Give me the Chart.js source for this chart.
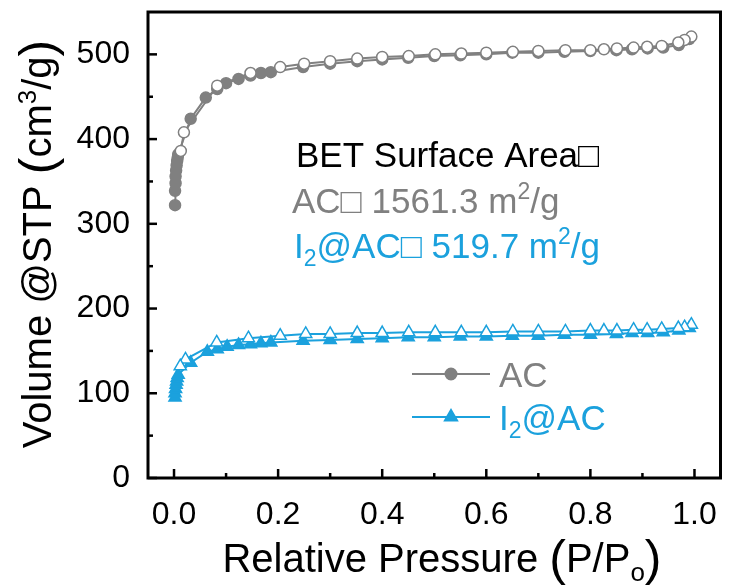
<!DOCTYPE html>
<html>
<head>
<meta charset="utf-8">
<script src="https://cdn.jsdelivr.net/npm/chart.js@4.4.0/dist/chart.umd.min.js"></script>
<style>
  html, body { margin: 0; padding: 0; background: #fff; }
  canvas { display: block; }
</style>
</head>
<body>
<canvas id="bet" width="729" height="588"></canvas>
<script>
// tick values
const xTicks = [0, 0.2, 0.4, 0.6, 0.8, 1.0];
const xMinor = [0.1, 0.3, 0.5, 0.7, 0.9];
const yTicks = [0, 100, 200, 300, 400, 500];
const yMinor = [50, 150, 250, 350, 450];

// AC adsorption (filled) / desorption (open)
const acAdsP = [0.002, 0.002, 0.003, 0.003, 0.004, 0.005, 0.006, 0.007, 0.008, 0.032, 0.061, 0.083, 0.100, 0.124, 0.147, 0.167, 0.186, 0.248, 0.300, 0.352, 0.400, 0.450, 0.500, 0.550, 0.600, 0.650, 0.700, 0.750, 0.800, 0.850, 0.880, 0.910, 0.940, 0.970, 0.990];
const acAdsV = [322, 339, 348, 356, 363, 369, 374, 378, 382, 424, 449, 459, 466, 471, 475, 478, 479, 485, 489, 492, 494, 496, 498, 499, 500, 502, 502, 503, 504, 505, 506, 507, 508, 511, 518];
const acDesP = [0.994, 0.981, 0.969, 0.937, 0.909, 0.883, 0.851, 0.826, 0.800, 0.752, 0.700, 0.651, 0.600, 0.552, 0.502, 0.451, 0.400, 0.352, 0.300, 0.250, 0.204, 0.147, 0.083, 0.019, 0.013];
const acDesV = [521, 517, 514, 510, 509, 508, 507, 506, 505, 505, 504, 503, 502, 501, 500, 498, 497, 495, 492, 489, 485, 478, 463, 408, 386];

// I2@AC adsorption (filled) / desorption (open)
const i2AdsP = [0.002, 0.002, 0.003, 0.004, 0.005, 0.006, 0.008, 0.032, 0.064, 0.083, 0.102, 0.124, 0.147, 0.167, 0.186, 0.248, 0.300, 0.352, 0.400, 0.450, 0.500, 0.550, 0.600, 0.650, 0.700, 0.750, 0.800, 0.850, 0.880, 0.910, 0.940, 0.970, 0.990];
const i2AdsV = [95, 100, 105, 110, 114, 118, 122, 136, 149, 152, 155, 157, 158, 159, 160, 162, 163, 164, 165, 166, 166, 167, 167, 168, 168, 169, 169, 170, 171, 171, 172, 174, 177];
const i2DesP = [0.994, 0.981, 0.969, 0.937, 0.909, 0.883, 0.851, 0.826, 0.800, 0.752, 0.700, 0.651, 0.600, 0.552, 0.502, 0.451, 0.400, 0.352, 0.300, 0.253, 0.204, 0.143, 0.082, 0.022, 0.012];
const i2DesV = [181, 178, 177, 176, 175, 175, 174, 174, 174, 173, 173, 173, 172, 172, 172, 172, 171, 171, 170, 170, 168, 165, 160, 140, 132];

const GRAY = '#808080';
const BLUE = '#1ba1dd';
const FONT = '"Liberation Sans", Arial, sans-serif';

function pts(xs, ys) {
  return xs.map((x, i) => ({ x, y: ys[i] }));
}

function series(label, xs, ys, color, style, filled, order) {
  return {
    label,
    data: pts(xs, ys),
    showLine: true,
    borderColor: color,
    borderWidth: 2,
    tension: 0,
    pointStyle: style,
    pointRadius: style === 'triangle' ? 7 : 5.5,
    pointBorderWidth: 1.5,
    pointBorderColor: color,
    pointBackgroundColor: filled ? color : '#ffffff',
    order,
  };
}

// draws a run of text pieces: [text, size, dy]
function drawRuns(ctx, runs, x, y, color) {
  ctx.fillStyle = color;
  ctx.textBaseline = 'alphabetic';
  ctx.textAlign = 'left';
  runs.forEach(([t, size, dy]) => {
    ctx.font = `${size}px ${FONT}`;
    ctx.fillText(t, x, y + (dy || 0));
    x += ctx.measureText(t).width;
  });
  return x;
}

function runsWidth(ctx, runs) {
  let w = 0;
  runs.forEach(([t, size]) => {
    ctx.font = `${size}px ${FONT}`;
    w += ctx.measureText(t).width;
  });
  return w;
}

const framePlugin = {
  id: 'frame',
  afterDraw(chart) {
    const { ctx, chartArea: a, scales } = chart;
    const xs = scales.x, ys = scales.y;
    ctx.save();
    ctx.strokeStyle = '#000';
    ctx.lineWidth = 3;
    ctx.strokeRect(a.left, a.top, a.right - a.left, a.bottom - a.top);

    // inward ticks
    ctx.lineWidth = 2.5;
    const tick = (x1, y1, x2, y2) => { ctx.beginPath(); ctx.moveTo(x1, y1); ctx.lineTo(x2, y2); ctx.stroke(); };
    xTicks.forEach(v => { const px = xs.getPixelForValue(v); tick(px, a.bottom, px, a.bottom - 9); });
    xMinor.forEach(v => { const px = xs.getPixelForValue(v); tick(px, a.bottom, px, a.bottom - 5); });
    yTicks.forEach(v => { const py = ys.getPixelForValue(v); tick(a.left, py, a.left + 9, py); });
    yMinor.forEach(v => { const py = ys.getPixelForValue(v); tick(a.left, py, a.left + 5, py); });

    // x axis title
    const xRuns = [['Relative Pressure ', 40], ['(', 50, 3], ['P/P', 40], ['o', 26, 9], [')', 50, 3]];
    const xw = runsWidth(ctx, xRuns);
    drawRuns(ctx, xRuns, 442 - xw / 2, 572, '#000');

    // y axis title
    const yRuns = [['Volume @STP ', 40], ['(', 50, 3], ['cm', 40], ['3', 26, -15], ['/g', 40], [')', 50, 3]];
    const yw = runsWidth(ctx, yRuns);
    ctx.save();
    ctx.translate(51, 244);
    ctx.rotate(-Math.PI / 2);
    drawRuns(ctx, yRuns, -yw / 2, 0, '#000');
    ctx.restore();

    // BET annotation
    drawRuns(ctx, [['BET Surface Area□', 35]], 296, 167, '#000');
    drawRuns(ctx, [['AC□ 1561.3 m', 35], ['2', 23, -14], ['/g', 35]], 292, 213, GRAY);
    drawRuns(ctx, [['I', 35], ['2', 23, 8], ['@AC□ 519.7 m', 35], ['2', 23, -14], ['/g', 35]], 294, 258, BLUE);

    // legend
    const legend = [
      { y: 374, color: GRAY, style: 'circle', r: 5.5, runs: [['AC', 35]] },
      { y: 417, color: BLUE, style: 'triangle', r: 7, runs: [['I', 35], ['2', 23, 8], ['@AC', 35]] },
    ];
    legend.forEach(item => {
      ctx.strokeStyle = item.color;
      ctx.lineWidth = 2;
      tick(412, item.y, 490, item.y);
      ctx.fillStyle = item.color;
      Chart.helpers.drawPoint(ctx, { pointStyle: item.style, radius: item.r, borderWidth: 1 }, 451, item.y);
      ctx.fill();
      drawRuns(ctx, item.runs, 499, item.y + 13, item.color);
    });
    ctx.restore();
  },
};

new Chart(document.getElementById('bet'), {
  type: 'scatter',
  data: {
    datasets: [
      series('AC des', acDesP, acDesV, GRAY, 'circle', false, 0),
      series('AC ads', acAdsP, acAdsV, GRAY, 'circle', true, 1),
      series('I2@AC des', i2DesP, i2DesV, BLUE, 'triangle', false, 0),
      series('I2@AC ads', i2AdsP, i2AdsV, BLUE, 'triangle', true, 1),
    ],
  },
  options: {
    responsive: false,
    animation: false,
    layout: { padding: { top: 12, right: 7, left: 0, bottom: 0 } },
    plugins: { legend: { display: false }, tooltip: { enabled: false } },
    scales: {
      x: {
        type: 'linear',
        min: -0.05,
        max: 1.05,
        grid: { display: false },
        border: { display: false },
        afterBuildTicks: (s) => { s.ticks = xTicks.map(v => ({ value: v })); },
        afterFit: (s) => { s.height = 110; s.paddingLeft = 0; s.paddingRight = 0; },
        ticks: {
          color: '#000',
          padding: 10,
          maxRotation: 0,
          font: { family: FONT, size: 32 },
          callback: (v) => Number(v).toFixed(1),
        },
      },
      y: {
        type: 'linear',
        min: 0,
        max: 550,
        grid: { display: false },
        border: { display: false },
        afterBuildTicks: (s) => { s.ticks = yTicks.map(v => ({ value: v })); },
        afterFit: (s) => { s.width = 148; s.paddingTop = 0; s.paddingBottom = 0; },
        ticks: {
          color: '#000',
          padding: 10,
          font: { family: FONT, size: 32 },
          callback: (v) => String(v),
        },
      },
    },
  },
  plugins: [framePlugin],
});
</script>
</body>
</html>
